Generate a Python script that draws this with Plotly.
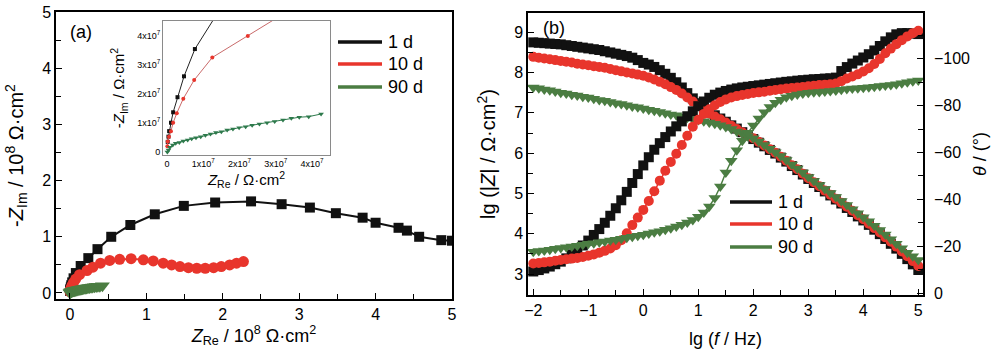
import plotly.graph_objects as go

W, H = 1000, 356
FONT = "Liberation Sans, Arial, sans-serif"
BLACK = "#111111"
RED = "#e8352c"
GREEN = "#4b7d42"

# ---------------- Panel (a): Nyquist (units: 1e8 ohm*cm2) ----------------
series_names = ["1 d", "10 d", "90 d"]

re_1d = [0.002, 0.004, 0.006, 0.011, 0.017, 0.029, 0.047, 0.077, 0.14, 0.24, 0.36, 0.54,
         0.79, 1.11, 1.49, 1.90, 2.37, 2.77, 3.14, 3.48, 3.83, 4.00, 4.30, 4.41, 4.57,
         4.86, 5.00]
im_1d = [0.035, 0.053, 0.072, 0.101, 0.137, 0.189, 0.261, 0.355, 0.48, 0.62, 0.78, 1.00,
         1.21, 1.40, 1.55, 1.61, 1.63, 1.58, 1.52, 1.42, 1.34, 1.25, 1.16, 1.11, 1.00,
         0.94, 0.93]

re_10d = [0.001, 0.002, 0.0055, 0.011, 0.017, 0.027, 0.045, 0.075, 0.125, 0.223, 0.30,
          0.40, 0.52, 0.65, 0.80, 0.96, 1.09, 1.22, 1.33, 1.44, 1.55, 1.66, 1.77, 1.88,
          1.98, 2.09, 2.18, 2.27]
im_10d = [0.020, 0.036, 0.053, 0.072, 0.101, 0.134, 0.184, 0.248, 0.326, 0.400, 0.46,
          0.53, 0.58, 0.60, 0.61, 0.59, 0.57, 0.53, 0.50, 0.47, 0.45, 0.44, 0.44, 0.45,
          0.47, 0.50, 0.53, 0.56]

re_90d = [0.001, 0.004, 0.008, 0.016, 0.024, 0.034, 0.045, 0.057, 0.068, 0.080, 0.093,
          0.106, 0.120, 0.135, 0.150, 0.166, 0.182, 0.199, 0.217, 0.235, 0.255, 0.276,
          0.297, 0.320, 0.343, 0.365, 0.391, 0.425]
im_90d = [0.000, 0.007, 0.016, 0.024, 0.030, 0.033, 0.038, 0.041, 0.046, 0.049, 0.053,
          0.058, 0.062, 0.067, 0.070, 0.076, 0.079, 0.084, 0.087, 0.092, 0.097, 0.101,
          0.105, 0.110, 0.116, 0.120, 0.122, 0.131]

inset_tickvals = [0, 1, 2, 3, 4]
inset_ticktext = ["0", "1x10<sup>7</sup>", "2x10<sup>7</sup>", "3x10<sup>7</sup>", "4x10<sup>7</sup>"]

# ---------------- Panel (b): Bode ----------------
lg_f = [-2.0, -1.9, -1.8, -1.7, -1.6, -1.5, -1.4, -1.3, -1.2, -1.1,
        -1.0, -0.9, -0.8, -0.7, -0.6, -0.5, -0.4, -0.3, -0.2, -0.1,
        0.0, 0.1, 0.2, 0.3, 0.4, 0.5, 0.6, 0.7, 0.8, 0.9,
        1.0, 1.1, 1.2, 1.3, 1.4, 1.5, 1.6, 1.7, 1.8, 1.9,
        2.0, 2.1, 2.2, 2.3, 2.4, 2.5, 2.6, 2.7, 2.8, 2.9,
        3.0, 3.1, 3.2, 3.3, 3.4, 3.5, 3.6, 3.7, 3.8, 3.9,
        4.0, 4.1, 4.2, 4.3, 4.4, 4.5, 4.6, 4.7, 4.8, 4.9,
        5.0]

lgZ_1d = [8.75, 8.74, 8.73, 8.72, 8.71, 8.70, 8.68, 8.66, 8.64, 8.62,
          8.60, 8.58, 8.56, 8.53, 8.50, 8.47, 8.44, 8.41, 8.37, 8.31,
          8.24, 8.20, 8.14, 8.06, 7.97, 7.87, 7.76, 7.63, 7.49, 7.36,
          7.24, 7.13, 7.03, 6.94, 6.86, 6.78, 6.69, 6.61, 6.52, 6.44,
          6.35, 6.26, 6.17, 6.08, 5.99, 5.89, 5.79, 5.68, 5.58, 5.47,
          5.36, 5.26, 5.16, 5.05, 4.95, 4.85, 4.75, 4.64, 4.54, 4.43,
          4.33, 4.22, 4.10, 3.99, 3.87, 3.75, 3.63, 3.50, 3.37, 3.24,
          3.10]
lgZ_10d = [8.39, 8.37, 8.35, 8.33, 8.31, 8.29, 8.27, 8.25, 8.22, 8.20,
           8.18, 8.16, 8.14, 8.12, 8.09, 8.06, 8.03, 8.00, 7.98, 7.95,
           7.92, 7.88, 7.83, 7.77, 7.71, 7.64, 7.57, 7.48, 7.38, 7.28,
           7.17, 7.07, 6.98, 6.91, 6.84, 6.76, 6.68, 6.60, 6.52, 6.44,
           6.37, 6.28, 6.19, 6.10, 6.01, 5.91, 5.81, 5.70, 5.60, 5.49,
           5.38, 5.28, 5.18, 5.07, 4.97, 4.87, 4.77, 4.67, 4.57, 4.46,
           4.36, 4.25, 4.14, 4.03, 3.91, 3.80, 3.68, 3.56, 3.44, 3.32,
           3.20]
lgZ_90d = [7.63, 7.61, 7.58, 7.56, 7.53, 7.50, 7.48, 7.45, 7.43, 7.40,
           7.38, 7.35, 7.32, 7.30, 7.27, 7.24, 7.22, 7.19, 7.16, 7.14,
           7.11, 7.08, 7.05, 7.02, 6.99, 6.96, 6.94, 6.91, 6.88, 6.85,
           6.82, 6.79, 6.76, 6.73, 6.69, 6.65, 6.60, 6.54, 6.48, 6.42,
           6.37, 6.29, 6.20, 6.11, 6.02, 5.93, 5.83, 5.72, 5.62, 5.52,
           5.41, 5.31, 5.21, 5.11, 5.01, 4.91, 4.81, 4.71, 4.61, 4.51,
           4.41, 4.31, 4.20, 4.09, 3.98, 3.86, 3.75, 3.64, 3.53, 3.44,
           3.35]

phase_1d = [-9.2, -9.8, -10.5, -11.3, -12.3, -13.4, -14.8, -16.5, -18.3, -20.3,
            -22.4, -24.8, -27.3, -30.0, -33.0, -36.2, -39.6, -43.2, -47.0, -50.8,
            -54.5, -58.0, -61.2, -64.0, -66.6, -69.0, -71.2, -73.3, -75.5, -77.6,
            -79.8, -81.8, -83.4, -84.7, -85.6, -86.3, -86.9, -87.4, -87.8, -88.1,
            -88.4, -88.7, -89.0, -89.3, -89.6, -89.9, -90.2, -90.4, -90.7, -90.9,
            -91.1, -91.3, -91.4, -91.6, -91.7, -92.0, -94.8, -96.5, -98.0, -99.3,
            -100.6, -102.0, -103.6, -105.5, -107.5, -109.2, -110.5, -111.0, -111.0, -110.8,
            -110.6]
phase_10d = [-12.6, -12.8, -13.1, -13.4, -13.8, -14.1, -14.4, -14.7, -15.0, -15.4,
             -15.9, -16.5, -17.2, -18.0, -19.0, -20.4, -22.5, -25.5, -29.0, -32.2,
             -35.5, -39.3, -43.5, -48.0, -52.2, -56.0, -59.5, -63.2, -67.2, -71.0,
             -74.0, -76.5, -78.5, -80.2, -81.6, -82.7, -83.5, -84.1, -84.6, -85.0,
             -85.4, -85.7, -86.0, -86.4, -86.7, -87.0, -87.3, -87.6, -87.8, -88.0,
             -88.3, -88.5, -88.8, -89.0, -89.2, -89.5, -90.5, -91.6, -92.5, -93.4,
             -94.6, -96.0, -97.8, -100.0, -102.4, -104.4, -106.3, -108.0, -109.6, -111.0,
             -112.0]
phase_90d = [-17.6, -17.9, -18.2, -18.5, -18.9, -19.2, -19.5, -19.9, -20.2, -20.6,
             -21.0, -21.3, -21.7, -22.0, -22.4, -22.8, -23.2, -23.6, -24.0, -24.5,
             -24.9, -25.4, -25.9, -26.4, -27.0, -27.7, -28.4, -29.2, -30.1, -31.2,
             -32.6, -34.4, -37.0, -40.6, -45.5, -51.5, -56.5, -61.0, -65.0, -68.5,
             -71.5, -74.5, -77.2, -79.5, -81.3, -82.6, -83.6, -84.3, -84.8, -85.2,
             -85.5, -85.7, -85.9, -86.1, -86.3, -86.5, -86.8, -87.1, -87.3, -87.5,
             -87.7, -87.9, -88.1, -88.4, -88.6, -88.9, -89.2, -89.6, -90.0, -90.4,
             -90.8]

# ---------------- helpers (layout positions in pixels -> paper) ----------------
def px(x):
    return x / W


def py(y):
    return 1 - y / H


colors = [BLACK, RED, GREEN]
symbols = ["square", "circle", "triangle-down"]
inset_line_colors = ["#222222", "#c96a6a", "#2e7a4c"]

fig = go.Figure()

nyq = [(re_1d, im_1d), (re_10d, im_10d), (re_90d, im_90d)]
main_sizes = [10, 11, 13]
for (xr, yi), c, s, ms, nm in zip(nyq, colors, symbols, main_sizes, series_names):
    fig.add_trace(go.Scatter(x=xr, y=yi, mode="lines+markers", xaxis="x", yaxis="y", name=nm,
                             line=dict(color=c, width=2), showlegend=False,
                             marker=dict(symbol=s, size=ms, color=c, line=dict(width=0))))

inset_sizes = [4, 4, 5]
for (xr, yi), c, lc, s, ms, nm in zip(nyq, colors, inset_line_colors, symbols, inset_sizes,
                                      series_names):
    fig.add_trace(go.Scatter(x=[v * 10 for v in xr], y=[v * 10 for v in yi], name=nm,
                             mode="lines+markers", xaxis="x4", yaxis="y4",
                             line=dict(color=lc, width=1), showlegend=False,
                             marker=dict(symbol=s, size=ms, color=c if c != GREEN else lc,
                                         line=dict(width=0))))

bode_mag = [lgZ_1d, lgZ_10d, lgZ_90d]
bode_ph = [phase_1d, phase_10d, phase_90d]
b_sizes = [10, 10, 11]
for z, c, s, ms, nm in zip(bode_mag, colors, symbols, b_sizes, series_names):
    fig.add_trace(go.Scatter(x=lg_f, y=z, mode="lines+markers", xaxis="x2", yaxis="y2", name=nm,
                             line=dict(color=c, width=1.5), showlegend=False,
                             marker=dict(symbol=s, size=ms, color=c, line=dict(width=0))))
for p, c, s, ms, nm in zip(bode_ph, colors, symbols, b_sizes, series_names):
    fig.add_trace(go.Scatter(x=lg_f, y=p, mode="lines+markers", xaxis="x2", yaxis="y3", name=nm,
                             line=dict(color=c, width=1.5), showlegend=False,
                             marker=dict(symbol=s, size=ms, color=c, line=dict(width=0))))

# ---------------- legends (key lines + labels, placed in pixels) ----------------
legend_a = dict(x0=338, x1=382, tx=386, ys=[42, 64, 87])
legend_b = dict(x0=730, x1=772, tx=776, ys=[202, 224, 247])
shapes, annotations = [], []
for lg in (legend_a, legend_b):
    for name, c, yy in zip(series_names, colors, lg["ys"]):
        shapes.append(dict(type="line", xref="paper", yref="paper", x0=px(lg["x0"]),
                           x1=px(lg["x1"]), y0=py(yy), y1=py(yy),
                           line=dict(color=c, width=3.5)))
        annotations.append(dict(text=name, x=px(lg["tx"]), y=py(yy), xref="paper", yref="paper",
                                xanchor="left", yanchor="middle", showarrow=False,
                                font=dict(family=FONT, size=18, color="black")))

annotations += [
    dict(text="(a)", x=px(68), y=py(32), xref="paper", yref="paper", xanchor="left",
         yanchor="middle", showarrow=False, font=dict(family=FONT, size=18, color="black")),
    dict(text="(b)", x=px(541), y=py(28), xref="paper", yref="paper", xanchor="left",
         yanchor="middle", showarrow=False, font=dict(family=FONT, size=18, color="black")),
]

axis_common = dict(showline=True, linecolor="black", linewidth=1.5, ticks="inside",
                   ticklen=6, tickwidth=1.2, tickcolor="black", showgrid=False, zeroline=False,
                   automargin=False,
                   tickfont=dict(family=FONT, size=16, color="black"))

fig.update_layout(
    width=W, height=H, margin=dict(l=0, r=0, t=0, b=0, autoexpand=False),
    paper_bgcolor="white", plot_bgcolor="white", showlegend=False,
    font=dict(family=FONT, color="black"),
    xaxis=dict(axis_common, domain=[px(56), px(452)], anchor="y", range=[-0.183, 5.0],
               tick0=0, dtick=1, mirror=True,
               minor=dict(ticks="inside", dtick=0.5, ticklen=5, tickcolor="black"),
               title=dict(text="<i>Z</i><sub>Re</sub> / 10<sup>8</sup> Ω·cm<sup>2</sup>",
                          font=dict(size=18), standoff=4)),
    yaxis=dict(axis_common, domain=[py(299), py(12)], anchor="x", range=[-0.107, 5.0],
               tick0=0, dtick=1, mirror=True,
               minor=dict(ticks="inside", dtick=0.5, ticklen=5, tickcolor="black"),
               title=dict(text="-<i>Z</i><sub>Im</sub> / 10<sup>8</sup> Ω·cm<sup>2</sup>",
                          font=dict(size=20), standoff=13)),
    xaxis2=dict(axis_common, domain=[px(528), px(923)], anchor="y2", range=[-2.096, 5.085],
                tick0=0, dtick=1, mirror=True,
                minor=dict(ticks="inside", dtick=0.5, ticklen=5, tickcolor="black"),
                title=dict(text="lg (<i>f</i> / Hz)", font=dict(size=18), standoff=14)),
    yaxis2=dict(axis_common, domain=[py(295), py(13)], anchor="x2", range=[2.479, 9.479],
                tick0=0, dtick=1, mirror=False,
                minor=dict(ticks="inside", dtick=0.5, ticklen=5, tickcolor="black"),
                title=dict(text="lg (|<i>Z</i>| / Ω·cm<sup>2</sup>)", font=dict(size=20), standoff=13)),
    yaxis3=dict(axis_common, overlaying="y2", side="right", anchor="x2", range=[0.85, -119.6],
                tick0=0, dtick=20,
                minor=dict(ticks="inside", dtick=10, ticklen=5, tickcolor="black"),
                ticklabelstandoff=6,
                title=dict(text="<i>θ</i> / (°)", font=dict(size=18), standoff=4)),
    xaxis4=dict(domain=[px(163), px(330)], anchor="y4", range=[-0.11, 4.497],
                showline=True, linecolor="#8a8a8a", linewidth=1, mirror=True, ticks="",
                showgrid=False, zeroline=False, automargin=False,
                tickmode="array", tickvals=inset_tickvals,
                ticktext=inset_ticktext, tickfont=dict(family=FONT, size=9, color="black"),
                title=dict(text="<i>Z</i><sub>Re</sub> / Ω·cm<sup>2</sup>", font=dict(size=15),
                           standoff=4)),
    yaxis4=dict(domain=[py(155), py(21)], anchor="x4", range=[-0.103, 4.517],
                showline=True, linecolor="#8a8a8a", linewidth=1, mirror=True, ticks="",
                showgrid=False, zeroline=False, automargin=False,
                tickmode="array", tickvals=inset_tickvals,
                ticktext=inset_ticktext, tickfont=dict(family=FONT, size=9, color="black"),
                title=dict(text="-<i>Z</i><sub>Im</sub> / Ω·cm<sup>2</sup>", font=dict(size=15),
                           standoff=8)),
    shapes=shapes,
    annotations=annotations,
)

fig.write_html("out.html", config={"displayModeBar": False},
               post_script="document.body.style.margin='0';")
